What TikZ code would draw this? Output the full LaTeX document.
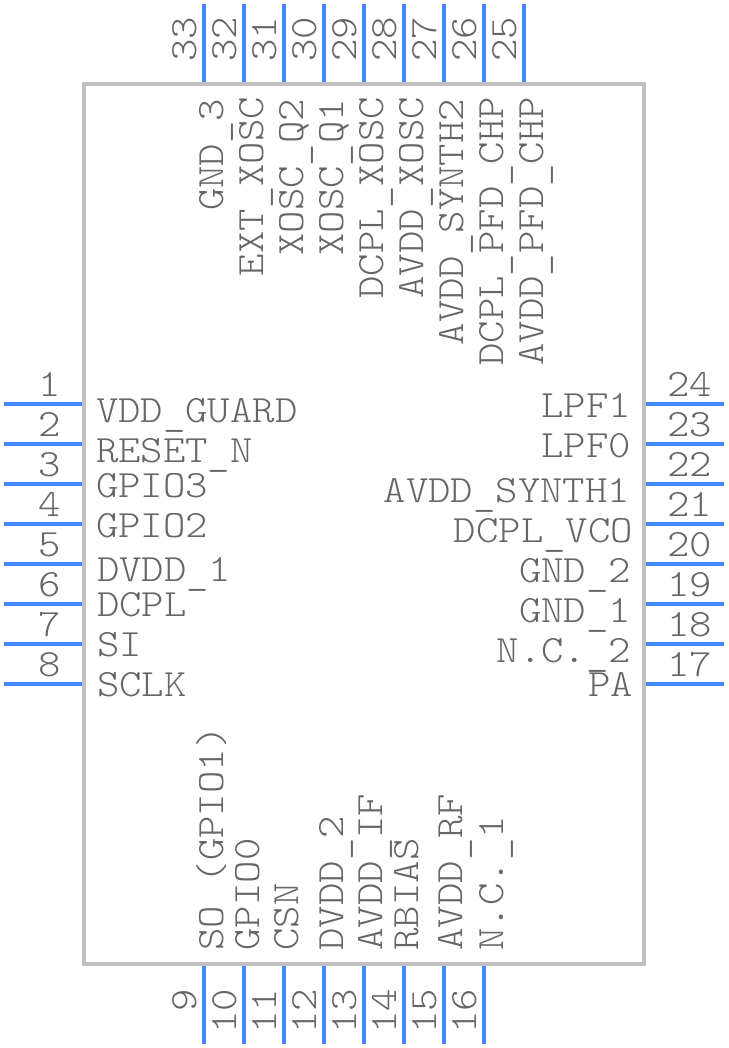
\documentclass[tikz,border=0pt]{standalone}
\usepackage{fontspec}
\newfontfamily\pinfont[FakeStretch=1.105]{Latin Modern Mono Light}
\newcommand{\us}{\raisebox{-3pt}{\_}}
\definecolor{pinblue}{HTML}{4488FF}
\definecolor{bodygray}{HTML}{C0C0C0}
\definecolor{txtgray}{HTML}{666666}
\tikzset{
  x=1pt,y=-1pt,
  pinline/.style={draw=pinblue,line width=4pt},
  bodybox/.style={draw=bodygray,line width=4pt,fill=white,rectangle,inner sep=0pt,minimum width=560pt,minimum height=880pt},
  txt/.style={inner sep=0pt,outer sep=0pt,text=txtgray,font=\pinfont\fontsize{38.6}{40}\selectfont},
  ll/.style={txt,anchor=base west},
  rl/.style={txt,anchor=base east},
  numc/.style={txt,anchor=base},
  up/.style={txt,rotate=90,anchor=base west},
  down/.style={txt,rotate=90,anchor=base east},
}
\begin{document}
\begin{tikzpicture}
\useasboundingbox (0,0) rectangle (728,1048);
\node[bodybox] (ic) at (364,524) {};
% left pins
\foreach \n/\y in {1/404,2/444,3/484,4/524,5/564,6/604,7/644,8/684}{
  \coordinate (a\n) at (4,\y); \coordinate (b\n) at (82,\y);
  \draw[pinline] (a\n) -- (b\n);
  \node[numc] (n\n) at (49.5,\y-8) {\n};
}
% right pins
\foreach \n/\y in {24/404,23/444,22/484,21/524,20/564,19/604,18/644,17/684}{
  \coordinate (a\n) at (724,\y); \coordinate (b\n) at (646,\y);
  \draw[pinline] (a\n) -- (b\n);
  \node[numc] (n\n) at (689.5,\y-8) {\n};
}
% top pins
\foreach \n/\x in {33/204,32/244,31/284,30/324,29/364,28/404,27/444,26/484,25/524}{
  \coordinate (a\n) at (\x,4); \coordinate (b\n) at (\x,82);
  \draw[pinline] (a\n) -- (b\n);
  \node[down] (n\n) at (\x-7.5,17) {\n};
}
% bottom pins
\foreach \n/\x in {9/204,10/244,11/284,12/324,13/364,14/404,15/444,16/484}{
  \coordinate (a\n) at (\x,1044); \coordinate (b\n) at (\x,966);
  \draw[pinline] (a\n) -- (b\n);
  \node[down] (n\n) at (\x-8,989) {\n};
}
% left labels
\node[ll] (l1) at (96,422.7) {VDD\us GUARD};
\node[ll] (l2) at (96,462.5) {RESET\us N};
\node[ll] (l3) at (96,497.5) {GPIO3};
\node[ll] (l4) at (96,537.5) {GPIO2};
\node[ll] (l5) at (97,581.5) {DVDD\us 1};
\node[ll] (l6) at (97,616.5) {DCPL};
\node[ll] (l7) at (97,656.5) {SI};
\node[ll] (l8) at (97,696.5) {SCLK};
% right labels
\node[rl] (l24) at (631,417) {LPF1};
\node[rl] (l23) at (631,457) {LPF0};
\node[rl] (l22) at (630,502) {AVDD\us SYNTH1};
\node[rl] (l21) at (633,542) {DCPL\us VCO};
\node[rl] (l20) at (631,582) {GND\us 2};
\node[rl] (l19) at (631,622) {GND\us 1};
\node[rl] (l18) at (631,662) {N.C.\us 2};
\node[rl] (l17) at (633,696) {PA};
% top labels
\node[down] (l33) at (223.5,99) {GND\us 3};
\node[down] (l32) at (263,97) {EXT\us XOSC};
\node[down] (l31) at (303,99) {XOSC\us Q2};
\node[down] (l30) at (343,99) {XOSC\us Q1};
\node[down] (l29) at (383,97) {DCPL\us XOSC};
\node[down] (l28) at (423,97) {AVDD\us XOSC};
\node[down] (l27) at (463,99) {AVDD\us SYNTH2};
\node[down] (l26) at (503,97) {DCPL\us PFD\us CHP};
\node[down] (l25) at (543,97) {AVDD\us PFD\us CHP};
% bottom labels
\node[up] (l9) at (223.7,950.5) {SO (GPIO1)};
\node[up] (l10) at (259.3,950.5) {GPIO0};
\node[up] (l11) at (298.7,950.5) {CSN};
\node[up] (l12) at (343.7,950.5) {DVDD\us 2};
\node[up] (l13) at (382.7,950.5) {AVDD\us IF};
\node[up] (l14) at (418.7,950.5) {RBIAS};
\node[up] (l15) at (462.7,950.5) {AVDD\us RF};
\node[up] (l16) at (503.7,950.5) {N.C.\us 1};
\end{tikzpicture}
\end{document}
